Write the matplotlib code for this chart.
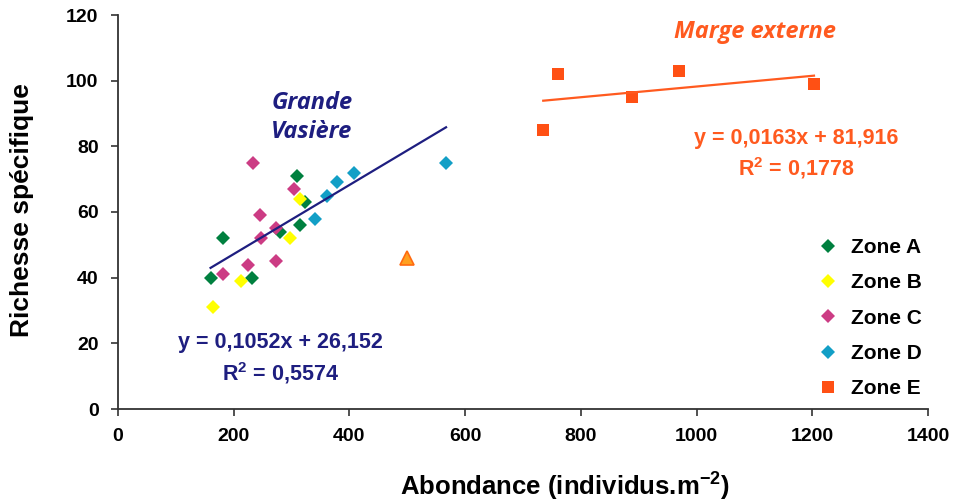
import numpy as np
import matplotlib
matplotlib.use("Agg")
import matplotlib.pyplot as plt
from matplotlib.lines import Line2D

plt.rcParams['font.family'] = ['Liberation Sans', 'DejaVu Sans']
plt.rcParams['mathtext.fontset'] = 'custom'
plt.rcParams['mathtext.rm'] = 'Liberation Sans'
plt.rcParams['mathtext.bf'] = 'Liberation Sans:bold'
plt.rcParams['axes.unicode_minus'] = False

# abondance (individus.m-2) / richesse specifique par zone
zone_a_x = [160, 181, 231, 280, 309, 315, 324]
zone_a_y = [40, 52, 40, 54, 71, 56, 63]
zone_b_x = [164, 213, 297, 315]
zone_b_y = [31, 39, 52, 64]
zone_c_x = [181, 224, 234, 245, 248, 273, 273, 305]
zone_c_y = [41, 44, 75, 59, 52, 55, 45, 67]
zone_d_x = [340, 361, 379, 408, 567]
zone_d_y = [58, 65, 69, 72, 75]
zone_e_x = [735, 760, 888, 970, 1203]
zone_e_y = [85, 102, 95, 103, 99]
autre_x = [500]
autre_y = [46]

# droites de regression (equations)
pente_gv, orig_gv = 0.1052, 26.152
pente_me, orig_me = 0.0163, 81.916

c_a = '#00803F'
c_b = '#FFFF00'
c_c = '#CC3C84'
c_d = '#129FC6'
c_e = '#FF5014'
c_gv = '#1E1E80'
c_me = '#FF5A1F'

fig = plt.figure(figsize=(9.54, 5.0), dpi=100)
ax = fig.add_axes([0.1237, 0.182, 0.849, 0.788])

ms_d = 7.6
ax.plot(zone_a_x, zone_a_y, 'D', color=c_a, ms=ms_d, mew=0)
ax.plot(zone_b_x, zone_b_y, 'D', color=c_b, ms=ms_d, mew=0)
ax.plot(zone_c_x, zone_c_y, 'D', color=c_c, ms=ms_d, mew=0)
ax.plot(zone_d_x, zone_d_y, 'D', color=c_d, ms=ms_d, mew=0)
ax.plot(zone_e_x, zone_e_y, 's', color=c_e, ms=8.6, mew=0)
ax.plot(autre_x, autre_y, '^', color='#FFA020', mec='#FF6A10', mew=1.2, ms=10)

# regression Grande Vasiere (zones A-D)
x_gv = np.array(zone_a_x + zone_b_x + zone_c_x + zone_d_x)
xs = np.array([x_gv.min(), x_gv.max()])
ax.plot(xs, pente_gv * xs + orig_gv, color=c_gv, lw=1.6)

xs = np.array([min(zone_e_x), max(zone_e_x)])
ax.plot(xs, pente_me * xs + orig_me, color=c_me, lw=1.6)

ax.set_xlim(0, 1400)
ax.set_ylim(0, 120)
ax.set_xticks(np.arange(0, 1401, 200))
ax.set_yticks(np.arange(0, 121, 20))
ax.spines['top'].set_visible(False)
ax.spines['right'].set_visible(False)
for s in ['left', 'bottom']:
    ax.spines[s].set_linewidth(1.3)
    ax.spines[s].set_color('#333333')
ax.tick_params(direction='out', length=5, width=1.2, color='#333333',
               labelsize=14, pad=9)
for lab in ax.get_xticklabels() + ax.get_yticklabels():
    lab.set_fontweight('bold')

ax.set_xlabel('Abondance (individus.m$^{\\mathbf{-2}}$)', fontsize=18.5,
              fontweight='bold')
ax.xaxis.set_label_coords(0.552, -0.152)
ax.set_ylabel('Richesse spécifique', fontsize=19, fontweight='bold')
ax.yaxis.set_label_coords(-0.104, 0.505)

ax.text(335, 88.8, 'Grande\nVasière', color=c_gv, fontsize=17, fontweight='bold',
        style='italic', ha='center', va='center', linespacing=1.3,
        family=['Open Sans', 'Liberation Sans'])
ax.text(1101, 114.8, 'Marge externe', color=c_me, fontsize=17, fontweight='bold',
        style='italic', ha='center', va='center',
        family=['Open Sans', 'Liberation Sans'])

ax.text(280, 20.4, 'y = 0,1052x + 26,152', color=c_gv,
        fontsize=15.5, fontweight='bold', ha='center', va='center')
ax.text(280, 11.0, 'R$^{\\mathbf{2}}$ = 0,5574', color=c_gv,
        fontsize=15.5, fontweight='bold', ha='center', va='center')
ax.text(1173, 82.3, 'y = 0,0163x + 81,916', color=c_me, fontsize=15.5,
        fontweight='bold', ha='center', va='center')
ax.text(1173, 73.4, 'R$^{\\mathbf{2}}$ = 0,1778', color=c_me, fontsize=15.5,
        fontweight='bold', ha='center', va='center')

handles = [
    Line2D([], [], ls='', marker='D', color=c_a, ms=ms_d, mew=0),
    Line2D([], [], ls='', marker='D', color=c_b, ms=ms_d, mew=0),
    Line2D([], [], ls='', marker='D', color=c_c, ms=ms_d, mew=0),
    Line2D([], [], ls='', marker='D', color=c_d, ms=ms_d, mew=0),
    Line2D([], [], ls='', marker='s', color=c_e, ms=8.6, mew=0),
]
labels = ['Zone A', 'Zone B', 'Zone C', 'Zone D', 'Zone E']
leg = ax.legend(handles, labels, loc='lower right', bbox_to_anchor=(1.016, -0.02),
                frameon=False, prop={'weight': 'bold', 'size': 15},
                labelspacing=0.78, handletextpad=0.5, handlelength=1.2)

fig.savefig('out.png', dpi=100)
